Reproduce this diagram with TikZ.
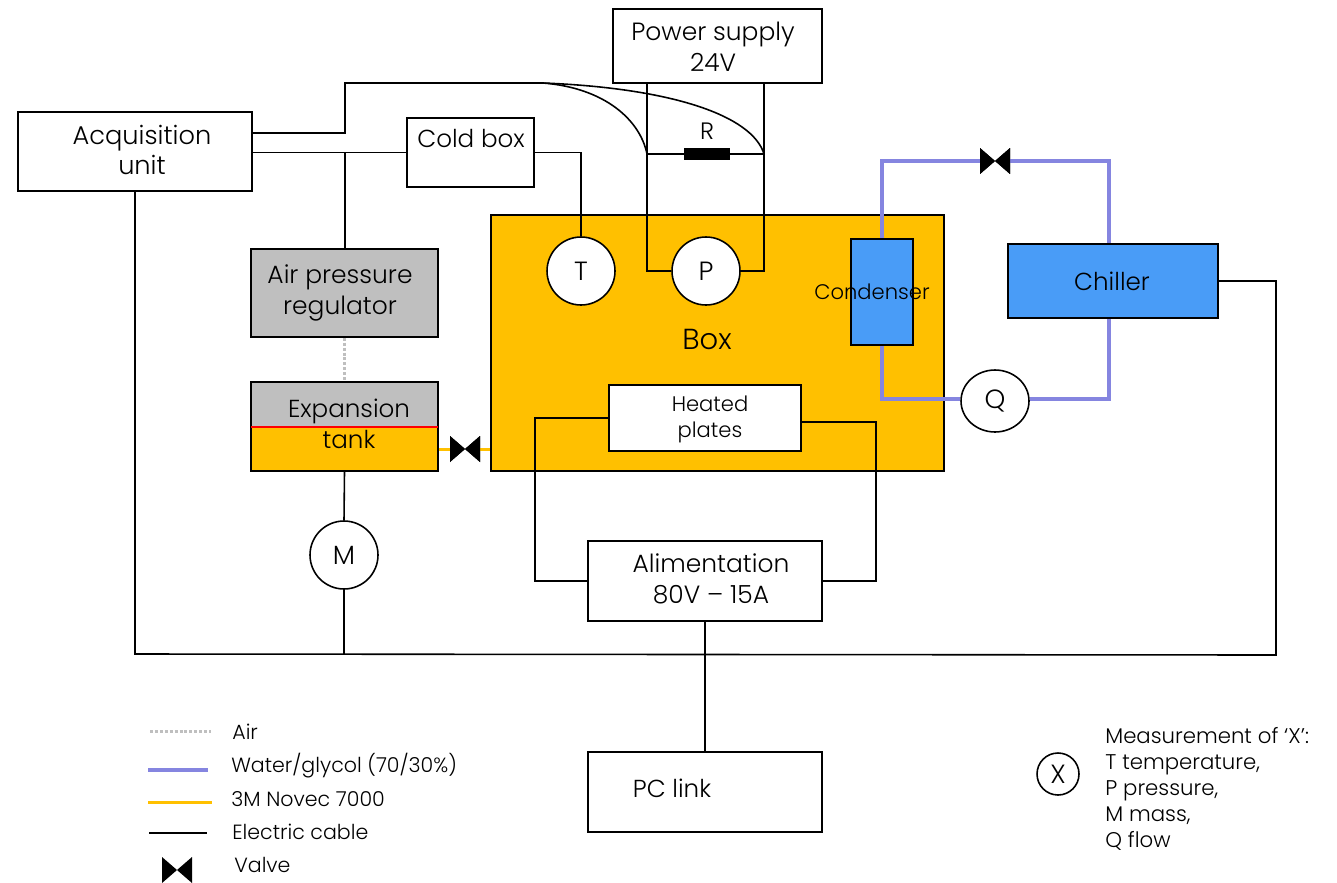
\documentclass[tikz,border=0pt]{standalone}
\usepackage{fontspec}
\setmainfont{Poppins}[UprightFont={* Light}]
\usetikzlibrary{shapes.geometric, positioning}

\definecolor{novec}{HTML}{FFC000}
\definecolor{coolant}{HTML}{8585E0}
\definecolor{chillblue}{HTML}{499CF7}
\definecolor{tankgray}{HTML}{BFBFBF}

\begin{document}
\begin{tikzpicture}[
    x=0.02cm, y=-0.02cm,
    block/.style={rectangle, draw, line width=0.9pt, inner sep=0pt, minimum width=4.68cm, minimum height=1.6cm},
    meter/.style={circle, draw, fill=white, line width=0.9pt, inner sep=0pt, minimum size=1.36cm, font=\fontsize{15}{17.6}\selectfont},
    valve/.style={rectangle, inner sep=0pt, minimum width=0.6cm, minimum height=0.52cm,
        path picture={\fill[black] (path picture bounding box.north west) -- (path picture bounding box.south east)
            -- (path picture bounding box.north east) -- (path picture bounding box.south west) -- cycle;}},
    label/.style={align=center, inner sep=0pt, font=\fontsize{14}{17.6}\selectfont},
    legend/.style={anchor=west, inner sep=0pt, font=\fontsize{11.7}{14.8}\selectfont},
    cable/.style={line width=0.9pt, black},
    waterline/.style={line width=2.8pt, coolant},
    novecline/.style={line width=1.7pt, novec},
    airline/.style={line width=1.7pt, tankgray, dash pattern=on 1.7pt off 1.1pt},
]
\useasboundingbox (0,0) rectangle (1337,882);

% Main box and what sits inside it
\node[block, fill=novec, minimum width=9.06cm, minimum height=5.12cm] (box) at (717.5,343) {};
\node[label, font=\fontsize{16.5}{17.6}\selectfont] (boxText) at (707,339) {Box};
\node[meter] (T) at (581,271) {T};
\node[meter] (P) at (706,271) {P};
\node[block, fill=chillblue, minimum width=1.24cm, minimum height=2.12cm] (condenser) at (882,292) {};
\node[block, fill=white, minimum width=3.84cm, minimum height=1.32cm] (heated) at (705,418) {};
\node[label, font=\fontsize{12}{14.8}\selectfont] (heatedText) at (710,419) {Heated\\plates};

% Top row
\node[block, minimum width=4.18cm, minimum height=1.48cm] (power) at (717.5,46) {};
\node[label, font=\fontsize{14.2}{17.6}\selectfont] (powerText) at (713,47) {Power supply\\24V};
\node[block, minimum height=1.58cm] (acq) at (135,151.5) {};
\node[label, font=\fontsize{14.6}{17.6}\selectfont] (acqText) at (142,150) {Acquisition\\unit};
\node[block, minimum width=2.54cm, minimum height=1.38cm] (cold) at (470.5,152.5) {};
\node[label] (coldText) at (471,138) {Cold box};
\node[rectangle, fill=black, inner sep=0pt, minimum width=0.92cm, minimum height=0.26cm] (resistor) at (707,154) {};
\node[label, font=\fontsize{13.5}{14.8}\selectfont] (rText) at (707,131) {R};

% Air side and tank
\node[block, fill=tankgray, minimum width=3.74cm, minimum height=1.76cm] (regulator) at (344.5,293) {};
\node[label, font=\fontsize{14.2}{17.6}\selectfont] (regulatorText) at (340,293) {Air pressure\\regulator};
\node[rectangle, fill=tankgray, inner sep=0pt, minimum width=3.74cm, minimum height=0.9cm] (tankAir) at (344.5,404.5) {};
\node[rectangle, fill=novec, inner sep=0pt, minimum width=3.74cm, minimum height=0.88cm] (tankLiquid) at (344.5,449) {};
\node[block, minimum width=3.74cm, minimum height=1.78cm] (tank) at (344.5,426.5) {};
\draw[red, line width=1.2pt] (tankAir.south west) -- (tankAir.south east);
\node[label] (tankText) at (349,423.5) {Expansion\\tank};
\node[valve] (novecValve) at (465,449) {};
\node[meter] (M) at (344,555) {M};

% Cooling loop
\node[block, fill=chillblue, minimum width=4.2cm, minimum height=1.48cm] (chiller) at (1113,281) {};
\node[label] (chillerText) at (1112,281) {Chiller};
\node[valve] (waterValve) at (995,161) {};
\node[ellipse, draw, fill=white, line width=0.9pt, inner sep=0pt, minimum width=1.36cm, minimum height=1.24cm, font=\fontsize{15}{17.6}\selectfont] (Q) at (995,401) {Q};

% Bottom row
\node[block] (alim) at (705,581) {};
\node[label, font=\fontsize{14.2}{17.6}\selectfont] (alimText) at (711,578.5) {Alimentation\\80V -- 15A};
\node[block] (pclink) at (705,792) {};
\node[label] (pclinkText) at (672,788) {PC link};

% Electric cables
\coordinate (acqUp) at (345,133);
\coordinate (topBend) at (345,83);
\coordinate (fork) at (543,83);
\coordinate (rLeft) at (647,154);
\coordinate (rRight) at (764,154);
\draw[cable] (acqUp -| acq.east) -- (acqUp) -- (topBend) -- (fork);
\draw[cable] (fork) .. controls (605,88) and (640,120) .. (rLeft);
\draw[cable] (fork) .. controls (670,88) and (752,115) .. (rRight);
\draw[cable] (rLeft) -- (resistor) -- (rRight);
\draw[cable] (rLeft |- power.south) -- (rLeft |- P) -- (P.west);
\draw[cable] (rRight |- power.south) -- (rRight |- P) -- (P.east);
\draw[cable] (acq.east |- cold.west) -- (cold.west);
\draw[cable] (topBend |- cold.west) -- (topBend |- regulator.north);
\draw[cable] (cold.east) -- (T.north |- cold.east) -- (T.north);
\draw[cable] (tank.south) -- (M.north);

\coordinate (busLeft) at (135,654);
\coordinate (busRight) at (1276,655);
\draw[cable] (acq.south) -- (busLeft) -- (busRight) -- (busRight |- chiller.east) -- (chiller.east);
\draw[cable] (M.south) -- (M.south |- busLeft);

\coordinate (heatedLeft) at (535,418);
\coordinate (heatedRight) at (876,422);
\draw[cable] (heated.west) -- (heatedLeft) -- (heatedLeft |- alim.west) -- (alim.west);
\draw[cable] (heatedRight -| heated.east) -- (heatedRight) -- (heatedRight |- alim.east) -- (alim.east);
\draw[cable] (alim.south) -- (pclink.north);

% Fluids
\draw[airline] (regulator.south) -- (tankAir.north);
\draw[novecline] (tank.east |- novecValve) -- (novecValve);
\draw[novecline] (novecValve) -- (box.west |- novecValve);
\coordinate (loopLeft) at (882,161);
\coordinate (loopRight) at (1109,161);
\coordinate (qLevel) at (882,399);
\draw[waterline] (condenser.north) -- (loopLeft) -- (waterValve);
\draw[waterline] (waterValve) -- (loopRight) -- (loopRight |- chiller.north);
\draw[waterline] (condenser.south) -- (qLevel) -- (Q.west |- qLevel);
\draw[waterline] (Q.east |- qLevel) -- (loopRight |- qLevel) -- (loopRight |- chiller.south);
\node[valve] at (waterValve) {};
\node[valve] at (novecValve) {};
\node[label, font=\fontsize{12}{14.8}\selectfont] (condenserText) at (872,292) {Condenser};

% Legend
\coordinate (airA) at (150,731);
\coordinate (airB) at (211,731);
\coordinate (waterA) at (148,770);
\coordinate (waterB) at (208,770);
\coordinate (novecA) at (148,802);
\coordinate (novecB) at (212,802);
\coordinate (cableA) at (149,833);
\coordinate (cableB) at (207,833);
\draw[airline] (airA) -- (airB);
\draw[waterline] (waterA) -- (waterB);
\draw[novecline] (novecA) -- (novecB);
\draw[cable] (cableA) -- (cableB);
\node[valve] (legValve) at (177,870) {};
\node[legend] (legAir) at (232,732) {Air};
\node[legend] (legWater) at (231,766) {Water/glycol (70/30\%)};
\node[legend] (legNovec) at (231,799) {3M Novec 7000};
\node[legend] (legCable) at (232,832) {Electric cable};
\node[legend] (legValveText) at (234,865) {Valve};

\node[meter, minimum size=0.84cm] (X) at (1058,774) {X};
\node[legend, align=left, font=\fontsize{12.1}{14.8}\selectfont] (measure) at (1105,789) {Measurement of ‘X’:\\T temperature,\\P pressure,\\M mass,\\Q flow};

\end{tikzpicture}
\end{document}
